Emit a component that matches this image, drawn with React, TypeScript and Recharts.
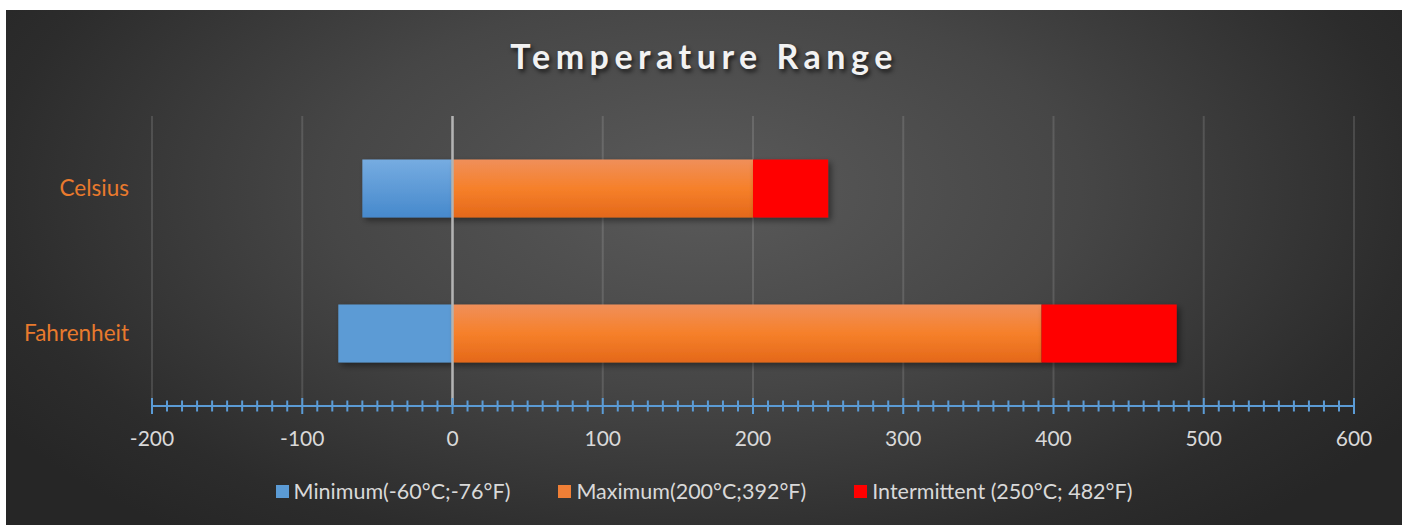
import { BarChart, Bar, XAxis, YAxis, CartesianGrid, ReferenceLine, Cell } from "recharts"

const categories = ["Celsius", "Fahrenheit"]
const minimum = [-60, -76]
const maximum = [200, 392]
// intermittent part shown past the maximum (250-200, 482-392)
const intermittent = [50, 90]

const majorTicks = [-200, -100, 0, 100, 200, 300, 400, 500, 600]
const minorTicks = Array.from({ length: 81 }, (_, i) => -200 + i * 10)

const legendLabels = ["Minimum(-60°C;-76°F)", "Maximum(200°C;392°F)", "Intermittent (250°C; 482°F)"]
const legendColors = ["#5b9bd5", "#f07f36", "#ff0000"]
const minimumFills = ["url(#blueGrad)", "#5b9bd5"]

const rows = categories.map((name, i) => ({
  name,
  minimum: minimum[i],
  maximum: maximum[i],
  intermittent: intermittent[i],
}))

const FONT = "Lato, 'Noto Sans', sans-serif"

const AxisTick = (props: any) => {
  const { x, y, payload } = props
  const major = payload.value % 100 === 0
  const h = major ? 8 : 5.5
  return (
    <g>
      <line x1={x} x2={x} y1={y - h} y2={y + h} stroke="#5b9bd5" strokeWidth={2} />
      {major && (
        <text x={x} y={y + 40} textAnchor="middle" fill="#d9d9d9" fontSize={21} fontFamily={FONT}>
          {payload.value}
        </text>
      )}
    </g>
  )
}

export default function App() {
  return (
    <div
      style={{
        position: "absolute",
        left: 6,
        top: 10,
        width: 1396,
        height: 515,
        overflow: "hidden",
        background: "radial-gradient(ellipse 60% 85% at 50% 35%, #5a5a5a 0%, #464646 45%, #2c2c2c 85%, #262626 100%)",
        fontFamily: FONT,
      }}
    >
      <div
        style={{
          position: "absolute",
          top: 25,
          width: "100%",
          textAlign: "center",
          color: "#f2f2f2",
          fontSize: 34,
          fontWeight: 700,
          letterSpacing: 5.5,
          textShadow: "2px 3px 4px rgba(0,0,0,0.65)",
        }}
      >
        Temperature Range
      </div>

      <BarChart
        width={1396}
        height={515}
        layout="vertical"
        data={rows}
        stackOffset="sign"
        barCategoryGap="30%"
        margin={{ top: 106, right: 48, bottom: 0, left: 0 }}
      >
        <defs>
          <linearGradient id="blueGrad" x1="0" y1="0" x2="0" y2="1">
            <stop offset="0%" stopColor="#76ace1" />
            <stop offset="100%" stopColor="#4689cc" />
          </linearGradient>
          <linearGradient id="orangeGrad" x1="0" y1="0" x2="0" y2="1">
            <stop offset="0%" stopColor="#f08f5a" />
            <stop offset="50%" stopColor="#f6802a" />
            <stop offset="100%" stopColor="#e4681a" />
          </linearGradient>
          <filter id="barShadow" x="-10%" y="-20%" width="130%" height="160%">
            <feDropShadow dx="3" dy="3" stdDeviation="3" floodColor="#000" floodOpacity="0.45" />
          </filter>
        </defs>
        <CartesianGrid horizontal={false} verticalValues={majorTicks} stroke="rgba(255,255,255,0.13)" strokeWidth={2} />
        <XAxis
          type="number"
          domain={[-200, 600]}
          ticks={minorTicks}
          interval={0}
          height={119}
          tickSize={0}
          tickMargin={0}
          tickLine={false}
          axisLine={{ stroke: "#5b9bd5", strokeWidth: 2 }}
          tick={<AxisTick />}
        />
        <YAxis
          type="category"
          dataKey="name"
          width={146}
          axisLine={false}
          tickLine={false}
          tickSize={0}
          tickMargin={23}
          tick={{ fill: "#e97a2d", fontSize: 22.5, fontFamily: FONT }}
        />
        <Bar dataKey="minimum" stackId="t" isAnimationActive={false} filter="url(#barShadow)">
          {rows.map((r, i) => (
            <Cell key={r.name} fill={minimumFills[i]} />
          ))}
        </Bar>
        <Bar dataKey="maximum" stackId="t" fill="url(#orangeGrad)" isAnimationActive={false} filter="url(#barShadow)" />
        <Bar dataKey="intermittent" stackId="t" fill="#ff0000" isAnimationActive={false} filter="url(#barShadow)" />
        <ReferenceLine x={0} stroke="#b3b3b3" strokeWidth={2.5} />
      </BarChart>

      <div
        style={{
          position: "absolute",
          top: 468,
          width: "100%",
          display: "flex",
          justifyContent: "center",
          gap: 48,
          color: "#d9d9d9",
          fontSize: 21.5,
        }}
      >
        {legendLabels.map((label, i) => (
          <div key={label} style={{ display: "flex", alignItems: "center", gap: 5 }}>
            <span style={{ width: 13, height: 13, background: legendColors[i], display: "inline-block" }} />
            <span>{label}</span>
          </div>
        ))}
      </div>
    </div>
  )
}
